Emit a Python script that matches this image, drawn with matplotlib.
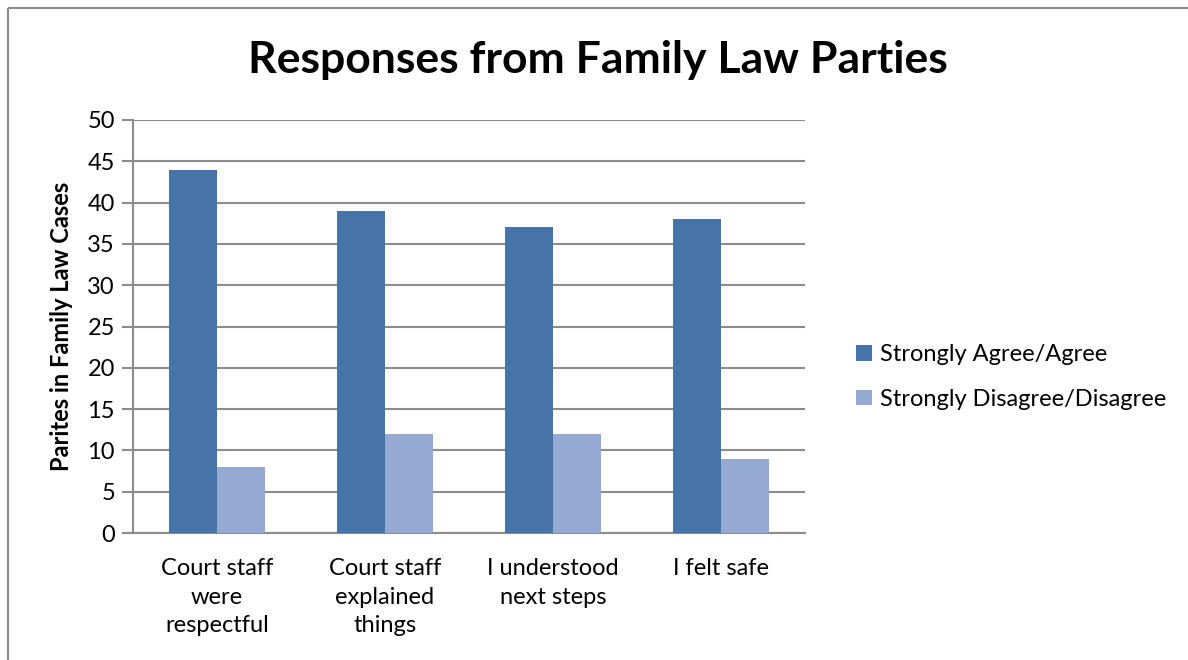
import numpy as np
from matplotlib import pyplot as plt
from matplotlib.lines import Line2D

categories = ["Court staff\nwere\nrespectful", "Court staff\nexplained\nthings",
              "I understood\nnext steps", "I felt safe"]
agree = [44, 39, 37, 38]
disagree = [8, 12, 12, 9]
series_names = ["Strongly Agree/Agree", "Strongly Disagree/Disagree"]
yticks = list(range(0, 55, 5))

plt.rcParams['font.family'] = ['Lato', 'DejaVu Sans']

fig = plt.figure(figsize=(11.88, 6.6), dpi=100)
ax = fig.add_axes([133/1188, 1-533/660, 672/1188, 413/660])

# outer chart frame (only top and left edges are visible)
fx, fy = 8/1188, 1 - 8/660
fig.add_artist(Line2D([fx, 1.0], [fy, fy], transform=fig.transFigure,
                      color='#8c8c8c', linewidth=1.5, solid_capstyle='butt'))
fig.add_artist(Line2D([fx, fx], [0.0, fy], transform=fig.transFigure,
                      color='#8c8c8c', linewidth=1.5, solid_capstyle='butt'))

x = np.arange(len(categories))
w = 0.286
ax.bar(x - w/2, agree, w, color='#4674A8', label=series_names[0], zorder=3)
ax.bar(x + w/2, disagree, w, color='#94AAD2', label=series_names[1], zorder=3)

ax.set_xlim(-0.5, len(categories) - 0.5)
ax.set_ylim(0, 50)
ax.set_yticks(yticks)
ax.yaxis.grid(True, color='#8c8c8c', linewidth=1.5, zorder=0)
ax.set_xticks(x)
ax.set_xticklabels(categories, fontsize=17, linespacing=1.45)
ax.tick_params(axis='x', length=0, pad=18)
ax.tick_params(axis='y', length=8, width=1.5, color='#8c8c8c', labelsize=17, pad=5)

for s in ['top', 'right']:
    ax.spines[s].set_visible(False)
for s in ['left', 'bottom']:
    ax.spines[s].set_color('#8c8c8c')
    ax.spines[s].set_linewidth(1.5)

ax.set_ylabel("Parites in Family Law Cases", fontsize=17, fontweight='bold', labelpad=10)
fig.text(598/1188, 1-60/660, "Responses from Family Law Parties", fontsize=32,
         fontweight='bold', ha='center', va='center')

ax.legend(loc='center left', bbox_to_anchor=(1.045, 0.378), frameon=False, fontsize=17,
          handlelength=0.65, handleheight=0.65, handletextpad=0.35, labelspacing=1.0)

fig.savefig("out.png", dpi=100)
